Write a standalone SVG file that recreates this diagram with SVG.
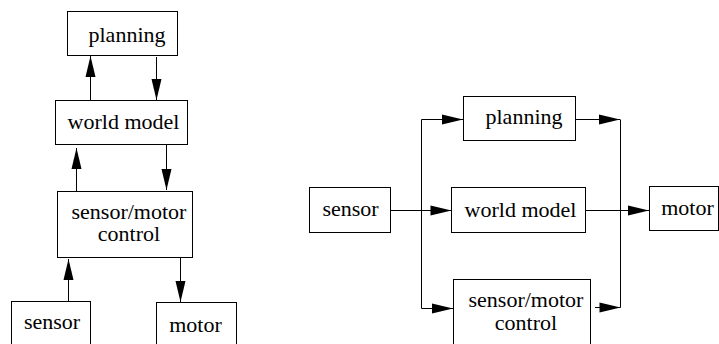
<svg xmlns="http://www.w3.org/2000/svg" width="719" height="344" viewBox="0 0 719 344">
<style>
.box{fill:#fff;stroke:#000;stroke-width:1}
.lbl{font-family:'Liberation Serif','Times New Roman',serif;font-size:22px;fill:#000;text-anchor:middle}
.c{fill:none;stroke:#000;stroke-width:1}
</style>
<defs>
<marker id="ah" markerUnits="userSpaceOnUse" markerWidth="21" markerHeight="10" refX="21" refY="5" orient="auto" overflow="visible">
<path d="M0,0 L21,5 L0,10 z" fill="#000"/>
</marker>
</defs>
<rect width="719" height="344" fill="#fff"/>
<g id="connectors">
<path class="c" d="M90.5,100 V56" marker-end="url(#ah)"/>
<path class="c" d="M156.5,57 V100" marker-end="url(#ah)"/>
<path class="c" d="M76.5,191 V148" marker-end="url(#ah)"/>
<path class="c" d="M166.5,145 V190" marker-end="url(#ah)"/>
<path class="c" d="M68.5,301 V259" marker-end="url(#ah)"/>
<path class="c" d="M180.5,258 V302" marker-end="url(#ah)"/>
<path class="c" d="M390.5,210.5 H451.5" marker-end="url(#ah)"/>
<path class="c" d="M421.5,119.5 V308.5"/>
<path class="c" d="M421.5,119.5 H463" marker-end="url(#ah)"/>
<path class="c" d="M421.5,308.5 H453" marker-end="url(#ah)"/>
<path class="c" d="M575.5,119.5 H620" marker-end="url(#ah)"/>
<path class="c" d="M620.5,119.5 V307.5"/>
<path class="c" d="M595,307.5 H620.5" marker-end="url(#ah)"/>
<path class="c" d="M585.5,210.5 H649" marker-end="url(#ah)"/>
</g>
<g id="l-planning"><rect class="box" x="67.5" y="11.5" width="110" height="44"/><text class="lbl" x="127" y="42">planning</text></g>
<g id="l-world"><rect class="box" x="55.5" y="100.5" width="132" height="44"/><text class="lbl" x="123.5" y="129">world model</text></g>
<g id="l-smc"><rect class="box" x="57.5" y="191.5" width="135" height="66"/><text class="lbl" x="129" y="218.5">sensor/motor</text><text class="lbl" x="129" y="241">control</text></g>
<g id="l-sensor"><rect class="box" x="11.5" y="301.5" width="79" height="60"/><text class="lbl" x="52" y="329">sensor</text></g>
<g id="l-motor"><rect class="box" x="156.5" y="302.5" width="80" height="60"/><text class="lbl" x="195.5" y="332">motor</text></g>
<g id="r-planning"><rect class="box" x="463.5" y="96.5" width="112" height="44"/><text class="lbl" x="524" y="124">planning</text></g>
<g id="r-world"><rect class="box" x="451.5" y="187.5" width="134" height="45"/><text class="lbl" x="520.5" y="217">world model</text></g>
<g id="r-smc"><rect class="box" x="453.5" y="279.5" width="137" height="80"/><text class="lbl" x="526" y="306.5">sensor/motor</text><text class="lbl" x="526" y="330">control</text></g>
<g id="r-sensor"><rect class="box" x="309.5" y="187.5" width="81" height="45"/><text class="lbl" x="350.5" y="216">sensor</text></g>
<g id="r-motor"><rect class="box" x="649.5" y="186.5" width="69" height="44"/><text class="lbl" x="687.5" y="215">motor</text></g>
</svg>
